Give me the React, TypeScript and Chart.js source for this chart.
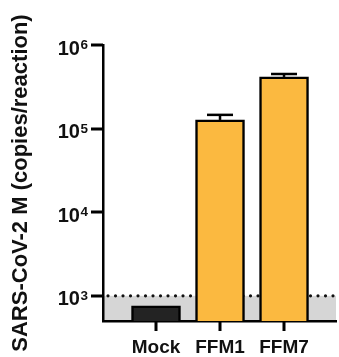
import React, { useEffect, useRef } from "react";
import { Chart, registerables } from "chart.js";

Chart.register(...registerables);

const categories = ["Mock", "FFM1", "FFM7"];
const categoryPositions = [0, 1, 2];
const meanValues = [760, 127000, 415000];
const upperErrorValues = [760, 146000, 450000];
const barColors = ["#232323", "#FBB940", "#FBB940"];
const yTickValues = [1e3, 1e4, 1e5, 1e6];
const yTickBase = "10";
const yTickExponents = ["3", "4", "5", "6"];
const detectionLimit = 1000;
const yMin = 500;
const yMax = 1e6;

const FONT = "'Liberation Sans', Arial, sans-serif";

const bandPlugin = {
  id: "lodBand",
  beforeDraw(chart: any) {
    const { ctx, chartArea, scales } = chart;
    const y = scales.y.getPixelForValue(detectionLimit);
    ctx.save();
    ctx.fillStyle = "#d6d6d6";
    ctx.fillRect(chartArea.left, y, chartArea.right - chartArea.left, chartArea.bottom - y);
    ctx.strokeStyle = "#111";
    ctx.lineWidth = 3.2;
    ctx.lineCap = "round";
    ctx.setLineDash([0, 7.5]);
    ctx.beginPath();
    ctx.moveTo(chartArea.left + 5, y);
    ctx.lineTo(chartArea.right, y);
    ctx.stroke();
    ctx.setLineDash([]);
    ctx.restore();
  },
};

const errorPlugin = {
  id: "errorBars",
  afterDatasetsDraw(chart: any) {
    const { ctx, scales } = chart;
    const meta = chart.getDatasetMeta(0);
    ctx.save();
    ctx.fillStyle = "#000";
    meta.data.forEach((bar: any, i: number) => {
      const yTop = scales.y.getPixelForValue(upperErrorValues[i]);
      const yVal = scales.y.getPixelForValue(meanValues[i]);
      if (yVal - yTop < 0.5) return;
      ctx.fillRect(bar.x - 1.25, yTop, 2.5, yVal - yTop);
      ctx.fillRect(bar.x - 13, yTop - 1.25, 26, 2.5);
    });
    ctx.restore();
  },
};

const axisPlugin = {
  id: "axisMarks",
  afterDraw(chart: any) {
    const { ctx, scales } = chart;
    const left = scales.y.right;
    const bottom = scales.x.top;
    ctx.save();
    ctx.fillStyle = "#000";
    yTickValues.forEach((v) => {
      const y = Math.round(scales.y.getPixelForValue(v));
      ctx.fillRect(left - 12, y - 1.5, 12, 3);
    });
    categoryPositions.forEach((v) => {
      const x = Math.round(scales.x.getPixelForValue(v));
      ctx.fillRect(x - 1.5, bottom, 3, 10);
    });
    ctx.fillStyle = "#111";
    ctx.textAlign = "right";
    ctx.textBaseline = "alphabetic";
    const right = left - 15;
    yTickValues.forEach((v, i) => {
      const y = scales.y.getPixelForValue(v);
      ctx.font = `bold 13.5px ${FONT}`;
      const ew = ctx.measureText(yTickExponents[i]).width;
      ctx.fillText(yTickExponents[i], right, y + 4);
      ctx.font = `bold 20px ${FONT}`;
      ctx.fillText(yTickBase, right - ew - 0.5, y + 9.5);
    });
    ctx.restore();
  },
};

export default function App() {
  const ref = useRef<HTMLCanvasElement>(null);
  useEffect(() => {
    if (!ref.current) return;
    const chart = new Chart(ref.current, {
      type: "bar",
      data: {
        datasets: [
          {
            data: categoryPositions.map((x, i) => ({ x, y: meanValues[i] })),
            backgroundColor: barColors,
            borderColor: "#000",
            borderWidth: 2.5,
            barThickness: 49,
          },
        ],
      },
      options: {
        animation: false,
        responsive: true,
        maintainAspectRatio: false,
        layout: { padding: { top: 45, right: 3, left: 0, bottom: 0 } },
        plugins: { legend: { display: false }, tooltip: { enabled: false } },
        scales: {
          x: {
            type: "linear",
            offset: false,
            min: -0.828,
            max: 2.812,
            afterBuildTicks: (s: any) => {
              s.ticks = categoryPositions.map((v) => ({ value: v }));
            },
            afterFit: (s: any) => {
              s.height = 36;
            },
            ticks: {
              autoSkip: false,
              maxRotation: 0,
              padding: 7,
              color: "#111",
              font: { family: FONT, size: 19, weight: "bold" },
              callback: (v: any) => categories[categoryPositions.indexOf(Number(v))] ?? "",
            },
            grid: {
              offset: false,
              drawOnChartArea: false,
              drawTicks: true,
              tickLength: 8,
              color: "rgba(0,0,0,0)",
            },
            border: { display: true, color: "#000", width: 2.5 },
          },
          y: {
            type: "logarithmic",
            min: yMin,
            max: yMax,
            afterBuildTicks: (s: any) => {
              s.ticks = yTickValues.map((v) => ({ value: v }));
            },
            afterFit: (s: any) => {
              s.width = 103;
            },
            ticks: { display: false },
            grid: { drawOnChartArea: false, drawTicks: false, color: "rgba(0,0,0,0)" },
            border: { display: true, color: "#000", width: 2.5 },
            title: {
              display: true,
              text: "SARS-CoV-2 M (copies/reaction)",
              color: "#111",
              padding: { top: 8, bottom: 0 },
              font: { family: FONT, size: 22, weight: "bold" },
            },
          },
        },
      },
      plugins: [bandPlugin, errorPlugin, axisPlugin],
    } as any);
    return () => chart.destroy();
  }, []);
  return (
    <div style={{ position: "absolute", left: 0, top: 0, width: 339, height: 357 }}>
      <canvas ref={ref} />
    </div>
  );
}
